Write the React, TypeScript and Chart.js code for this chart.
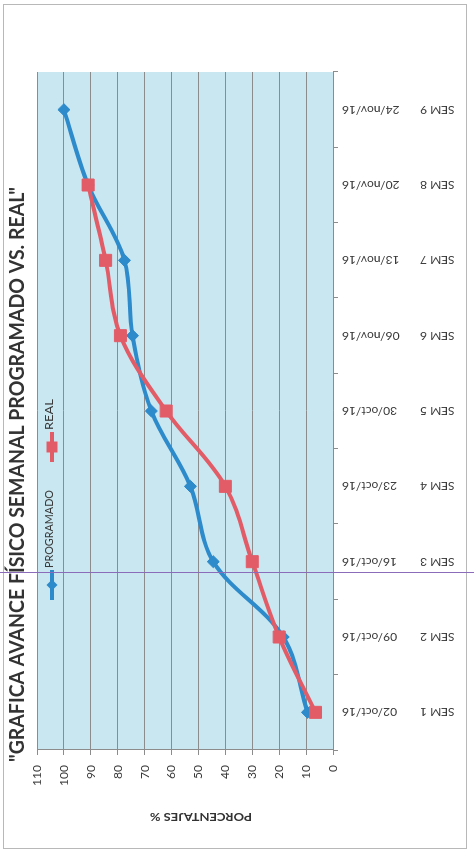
import React, { useEffect, useRef } from 'react';
import { Chart, registerables } from 'chart.js';

Chart.register(...registerables);

// ---- data ----
const semanas = ['SEM 1', 'SEM 2', 'SEM 3', 'SEM 4', 'SEM 5', 'SEM 6', 'SEM 7', 'SEM 8', 'SEM 9'];
const fechas = ['02/oct/16', '09/oct/16', '16/oct/16', '23/oct/16', '30/oct/16', '06/nov/16', '13/nov/16', '20/nov/16', '24/nov/16'];
const programado = [9.5, 18.5, 44.5, 53, 67.5, 74.5, 77.5, 91, 100];
const real = [6.5, 20, 30, 40, 62, 79, 84.5, 91, null];
const yMin = 0;
const yMax = 110;
const yStep = 10;
const seriesNames = ['PROGRAMADO', 'REAL'];
const titulo = '"GRAFICA AVANCE FÍSICO SEMANAL PROGRAMADO VS. REAL"';
const tituloEje = 'PORCENTAJES %';

// ---- styles ----
const AZUL = '#2D8ACB';
const ROJO = '#E25C68';
const FONDO = '#C9E7F1';
const GRID = '#8C8C8C';
const TEXTO = '#3A3A3A';
const FONT = 'Lato, "Open Sans", "DejaVu Sans", sans-serif';

function fitText(ctx: CanvasRenderingContext2D, text: string, x: number, y: number, width: number, font: string, center: boolean) {
  ctx.save();
  ctx.font = font;
  const w = ctx.measureText(text).width;
  ctx.translate(x, y);
  ctx.scale(width / w, 1);
  ctx.textAlign = 'left';
  ctx.fillText(text, center ? -w / 2 : 0, 0);
  ctx.restore();
}

const decor = {
  id: 'decor',
  beforeDraw(chart: any) {
    const { ctx, chartArea: a, width, height } = chart;
    ctx.save();
    ctx.fillStyle = '#ffffff';
    ctx.fillRect(0, 0, width, height);
    ctx.fillStyle = FONDO;
    ctx.fillRect(a.left, a.top, a.right - a.left, a.bottom - a.top);
    ctx.strokeStyle = '#b8b8b8';
    ctx.lineWidth = 1;
    ctx.strokeRect(8.5, 3.5, width - 13, height - 11);
    ctx.restore();
  },
  afterDraw(chart: any) {
    const { ctx, chartArea: a, height } = chart;
    ctx.save();
    ctx.fillStyle = '#333333';
    ctx.textBaseline = 'alphabetic';
    // title
    fitText(ctx, titulo, a.left - 12, 24, 575, 'bold 20px ' + FONT, false);
    // axis title (rotated)
    ctx.save();
    ctx.translate(40, 201);
    ctx.rotate(-Math.PI / 2);
    ctx.textBaseline = 'middle';
    fitText(ctx, tituloEje, 0, 0, 102, 'bold 12px ' + FONT, true);
    ctx.restore();
    // legend
    const items = [
      { x: 257, color: AZUL, shape: 'diamond', textW: 78 },
      { x: 395, color: ROJO, shape: 'square', textW: 31 },
    ];
    items.forEach((it, i) => {
      const cy = 52;
      ctx.strokeStyle = it.color;
      ctx.fillStyle = it.color;
      ctx.lineWidth = 4;
      ctx.beginPath();
      ctx.moveTo(it.x, cy);
      ctx.lineTo(it.x + 30, cy);
      ctx.stroke();
      const cx = it.x + 15;
      ctx.beginPath();
      if (it.shape === 'diamond') {
        ctx.moveTo(cx, cy - 5.5);
        ctx.lineTo(cx + 5.5, cy);
        ctx.lineTo(cx, cy + 5.5);
        ctx.lineTo(cx - 5.5, cy);
        ctx.closePath();
      } else {
        ctx.rect(cx - 5.5, cy - 5.5, 11, 11);
      }
      ctx.fill();
      ctx.fillStyle = '#3a3a3a';
      ctx.textBaseline = 'middle';
      fitText(ctx, seriesNames[i], it.x + 32, 50, it.textW, '10.5px ' + FONT, false);
    });
    // scanner line
    ctx.strokeStyle = '#8a6cba';
    ctx.lineWidth = 1;
    ctx.beginPath();
    ctx.moveTo(284.5, 0);
    ctx.lineTo(284.5, height);
    ctx.stroke();
    ctx.restore();
  },
};

export default function App() {
  const ref = useRef<HTMLCanvasElement | null>(null);
  useEffect(() => {
    if (!ref.current) return;
    const tickFont = { family: FONT, size: 12 };
    const chart = new Chart(ref.current, {
      type: 'line',
      data: {
        labels: fechas,
        datasets: [
          {
            label: seriesNames[0],
            data: programado,
            borderColor: AZUL,
            backgroundColor: AZUL,
            borderWidth: 4,
            pointStyle: 'rectRot',
            pointRadius: 6,
            pointBorderWidth: 1,
            tension: 0.35,
            order: 1,
          },
          {
            label: seriesNames[1],
            data: real,
            borderColor: ROJO,
            backgroundColor: ROJO,
            borderWidth: 4,
            pointStyle: 'rect',
            pointRadius: 8.5,
            pointBorderWidth: 1,
            tension: 0.35,
            order: 0,
          },
        ],
      },
      options: {
        responsive: false,
        animation: false,
        layout: { padding: { top: 37, right: 72, bottom: 0, left: 0 } },
        plugins: {
          legend: { display: false },
          title: { display: false },
          tooltip: { enabled: false },
        },
        scales: {
          x: {
            type: 'category',
            position: 'bottom',
            offset: true,
            weight: 0,
            grid: { display: true, drawOnChartArea: false, drawTicks: true, tickLength: 5, offset: true, color: GRID },
            border: { display: true, color: GRID, width: 1 },
            ticks: { minRotation: 90, maxRotation: 90, autoSkip: false, padding: 4, color: TEXTO, font: tickFont },
            afterFit: (s: any) => { s.height = 80; },
          },
          x2: {
            type: 'category',
            position: 'bottom',
            labels: semanas,
            offset: true,
            weight: 1,
            grid: { display: false, drawTicks: false },
            border: { display: false },
            ticks: { minRotation: 90, maxRotation: 90, autoSkip: false, padding: 7, color: TEXTO, font: tickFont },
            afterFit: (s: any) => { s.height = 61; },
          },
          y: {
            min: yMin,
            max: yMax,
            ticks: { stepSize: yStep, padding: 10, color: TEXTO, font: tickFont },
            grid: { color: GRID, tickLength: 5, lineWidth: 1 },
            border: { display: true, color: GRID },
            afterFit: (s: any) => { s.width = 107; },
          },
        },
      } as any,
      plugins: [decor],
    });
    return () => chart.destroy();
  }, []);

  return (
    <div style={{ position: 'absolute', left: 0, top: 0, width: 474, height: 857, overflow: 'hidden', background: '#ffffff' }}>
      <div
        style={{
          position: 'absolute',
          left: 0,
          top: 857,
          width: 857,
          height: 474,
          transform: 'rotate(-90deg)',
          transformOrigin: '0 0',
        }}
      >
        <canvas ref={ref} width={857} height={474} style={{ width: 857, height: 474, display: 'block' }} />
      </div>
    </div>
  );
}
